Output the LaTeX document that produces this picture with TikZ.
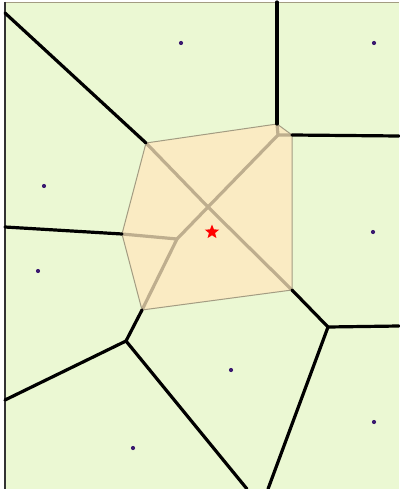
\documentclass[tikz,border=0pt]{standalone}
\usetikzlibrary{shapes.geometric}
\definecolor{bggreen}{HTML}{EBF8D3}
\definecolor{cellfill}{HTML}{FAEBC3}
\definecolor{oldedge}{HTML}{BEAE8E}
\definecolor{cellborder}{HTML}{A39C82}
\definecolor{sitecol}{HTML}{3B1A70}
\tikzset{
  voro/.style={black, line width=3.2pt, line cap=round, line join=round},
  oldline/.style={oldedge, line width=3.2pt, line cap=round, line join=round},
  site/.style={circle, fill=sitecol, inner sep=0pt, minimum size=4.2pt},
  newpt/.style={star, star points=5, star point ratio=2.3, fill=red, inner sep=0pt, minimum size=15pt}
}
\begin{document}
\begin{tikzpicture}[x=1pt,y=-1pt]
\useasboundingbox (0,0) rectangle (399,489);
\fill[white] (0,0) rectangle (399,489);
\fill[bggreen] (5,2) rectangle (399,489);
% frame
\draw[cellborder, line width=0.8pt] (5,2) -- (399,2);
\draw[black!80, line width=2pt] (5,2) -- (5,489);
% vertices
\coordinate (tl) at (5,13);
\coordinate (A) at (146,143);
\coordinate (topv) at (277,2);
\coordinate (B) at (277,124);
\coordinate (Bi) at (278,135);
\coordinate (C) at (292,135);
\coordinate (rt) at (399,136);
\coordinate (D) at (292,290);
\coordinate (E) at (328,327);
\coordinate (rb) at (399,326);
\coordinate (bb) at (268,489);
\coordinate (F) at (142,310);
\coordinate (G) at (126,341);
\coordinate (lb) at (5,400);
\coordinate (bl) at (247,489);
\coordinate (H) at (122,234);
\coordinate (lm) at (5,227);
\coordinate (X) at (208,207);
\coordinate (Y) at (177,239);
% highlighted cell
\fill[cellfill] (A) -- (B) -- (C) -- (D) -- (F) -- (H) -- cycle;
\draw[oldline] (A) -- (X) -- (D);
\draw[oldline] (B) -- (Bi) -- (C);
\draw[oldline] (Bi) -- (X) -- (Y) -- (F);
\draw[oldline] (H) -- (Y);
\draw[cellborder, line width=1pt, line join=round] (A) -- (B) -- (C) -- (D) -- (F) -- (H) -- cycle;
% voronoi edges
\draw[voro] (tl) -- (A);
\draw[voro] (topv) -- (B);
\draw[voro] (C) -- (rt);
\draw[voro] (D) -- (E) -- (rb);
\draw[voro] (E) -- (bb);
\draw[voro] (F) -- (G) -- (lb);
\draw[voro] (G) -- (bl);
\draw[voro] (lm) -- (H);
% sites
\node[site] (s1) at (181,43) {};
\node[site] (s2) at (374,43) {};
\node[site] (s3) at (44,186) {};
\node[site] (s4) at (373,232) {};
\node[site] (s5) at (38,271) {};
\node[site] (s6) at (231,370) {};
\node[site] (s7) at (374,422) {};
\node[site] (s8) at (133,448) {};
\node[newpt] (q) at (212,232) {};
\end{tikzpicture}
\end{document}
